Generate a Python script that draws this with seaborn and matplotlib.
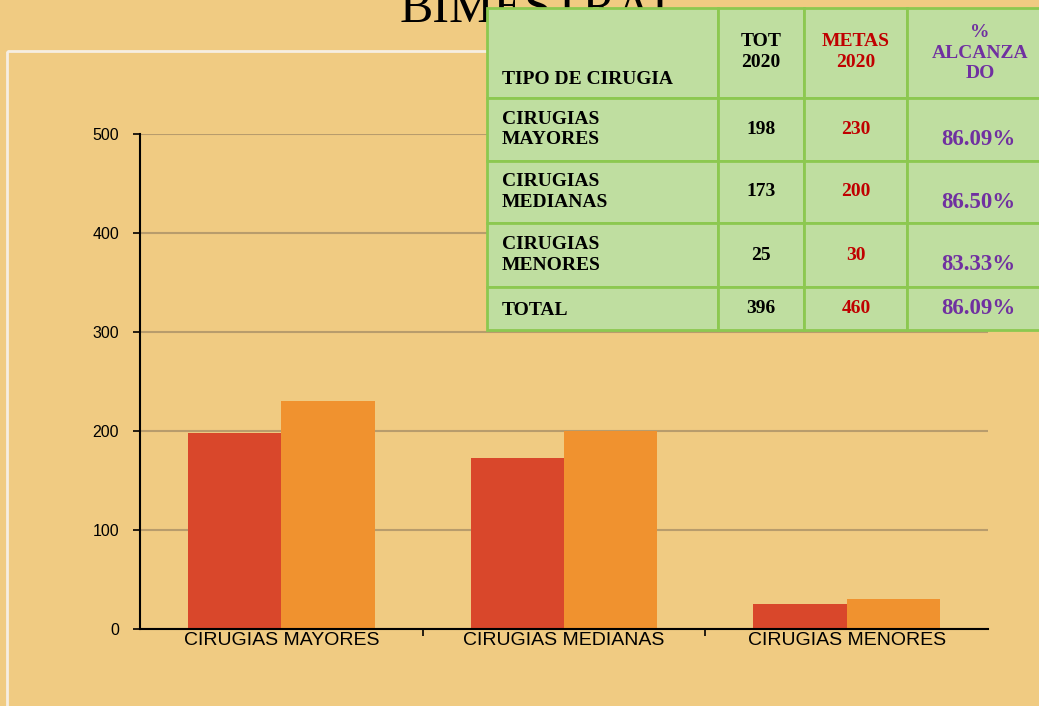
"""Cirugías 2020: barras TOT vs METAS con tabla resumen superpuesta."""

import matplotlib
matplotlib.use("Agg")

import matplotlib.pyplot as plt
import numpy as np
import pandas as pd
import seaborn as sns
from matplotlib.patches import Rectangle

# datos
categories = ["CIRUGIAS MAYORES", "CIRUGIAS MEDIANAS", "CIRUGIAS MENORES"]
tot_2020 = [198, 173, 25]
metas_2020 = [230, 200, 30]
row_labels = ["CIRUGIAS\nMAYORES", "CIRUGIAS\nMEDIANAS", "CIRUGIAS\nMENORES", "TOTAL"]
tab_tot = [198, 173, 25, 396]
tab_metas = [230, 200, 30, 460]
tab_pct = ["86.09%", "86.50%", "83.33%", "86.09%"]
y_ticks = [0, 100, 200, 300, 400, 500]

BG = "#F0CB82"
RED = "#D9472B"
ORANGE = "#F0922F"
GRID = "#B89C6C"
CELL = "#BFDEA0"
CELL_EDGE = "#8CC850"
TXT_RED = "#C00000"
TXT_PURPLE = "#7030A0"

sns.set_style("ticks")
plt.rcParams["font.family"] = ["Liberation Sans", "DejaVu Sans"]

df = pd.DataFrame({
    "cat": categories * 2,
    "serie": ["TOT 2020"] * 3 + ["METAS 2020"] * 3,
    "valor": tot_2020 + metas_2020,
})

fig = plt.figure(figsize=(10.39, 7.06), dpi=100, facecolor=BG)
ax = fig.add_axes([140 / 1039, 1 - 629 / 706, 848 / 1039, 495 / 706])
ax.set_facecolor(BG)

sns.barplot(data=df, x="cat", y="valor", hue="serie",
            palette=[RED, ORANGE], width=0.66, linewidth=0,
            saturation=1, ax=ax)
ax.get_legend().remove()

ax.set_xlim(-0.5, 2.5)
ax.set_ylim(0, 500)
ax.set_yticks(y_ticks)
ax.set_xlabel("")
ax.set_ylabel("")
ax.yaxis.grid(True, color=GRID, linewidth=1.5)
ax.set_axisbelow(True)
for s in ["top", "right"]:
    ax.spines[s].set_visible(False)
for s in ["left", "bottom"]:
    ax.spines[s].set_color("black")
    ax.spines[s].set_linewidth(1.5)
ax.tick_params(axis="y", length=5, width=1.2, labelsize=11.5, pad=10,
               labelcolor="black", color="black")
ax.tick_params(axis="x", which="major", length=0, labelsize=14, pad=2,
               labelcolor="black")
ax.set_xticks([0.5, 1.5], minor=True)
ax.tick_params(axis="x", which="minor", length=5, width=1.2, direction="out",
               color="black")

# capa superior: marco, título y tabla (coordenadas en píxeles)
ov = fig.add_axes([0, 0, 1, 1], zorder=5)
ov.set_xlim(0, 1039)
ov.set_ylim(706, 0)
ov.axis("off")
ov.patch.set_alpha(0)

ov.add_patch(Rectangle((7, 51), 1200, 800, fill=False,
                       edgecolor="#F6EEE2", linewidth=2, zorder=1))
ov.text(400, 22, "BIMESTRAL", fontsize=36, family="Liberation Serif",
        ha="left", va="baseline", color="black", zorder=1)

col_x = [487, 718, 804, 907, 1055]
row_y = [8, 98, 161, 223, 287, 330]
for i in range(len(row_y) - 1):
    for j in range(len(col_x) - 1):
        ov.add_patch(Rectangle((col_x[j], row_y[i]), col_x[j + 1] - col_x[j],
                               row_y[i + 1] - row_y[i], facecolor=CELL,
                               edgecolor=CELL_EDGE, linewidth=2, zorder=2))

serif = dict(family="Liberation Serif", fontweight="bold", zorder=3)
ov.text(502, 79, "TIPO DE CIRUGIA", fontsize=14, ha="left", va="center",
        color="black", **serif)
ov.text(761, 52, "TOT\n2020", fontsize=14, ha="center", va="center",
        linespacing=1.3, color="black", **serif)
ov.text(856, 52, "METAS\n2020", fontsize=14, ha="center", va="center",
        linespacing=1.3, color=TXT_RED, **serif)
ov.text(980, 53, "%\nALCANZA\nDO", fontsize=14, ha="center", va="center",
        linespacing=1.3, color=TXT_PURPLE, **serif)

for i, lab in enumerate(row_labels):
    yc = (row_y[i + 1] + row_y[i + 2]) / 2
    ov.text(502, yc + (2 if i == 3 else 0), lab, fontsize=14, ha="left",
            va="center", linespacing=1.25, color="black", **serif)
    ov.text(761, yc, str(tab_tot[i]), fontsize=14, ha="center",
            va="center", color="black", **serif)
    ov.text(856, yc, str(tab_metas[i]), fontsize=14, ha="center",
            va="center", color=TXT_RED, **serif)
    ov.text(978, yc + (10 if i < 3 else 0), tab_pct[i], fontsize=16.5,
            ha="center", va="center", color=TXT_PURPLE, **serif)

fig.savefig("out.png", dpi=100, facecolor=BG)
plt.close(fig)
